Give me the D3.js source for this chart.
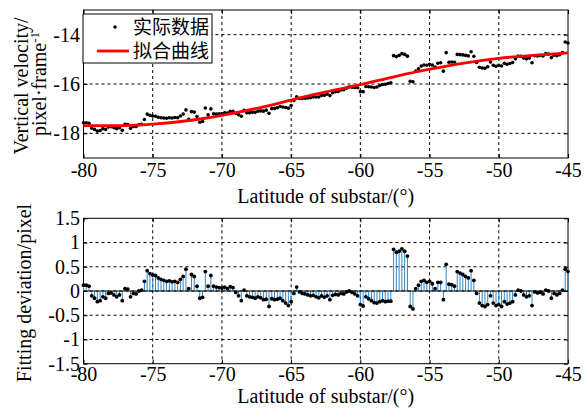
<!DOCTYPE html>
<html>
<head>
<meta charset="utf-8">
<script src="https://cdn.jsdelivr.net/npm/d3@7"></script>
<style>
  body { margin: 0; background: #fff; }
  svg { display: block; }
  .tick text { font-family: "Liberation Serif", "Times New Roman", serif; font-size: 20px; fill: #000; }
</style>
</head>
<body>
<svg id="chart" width="586" height="409"></svg>
<script>
// ---- data ----
const latitudes = [
  -80.0,-79.8,-79.6,-79.4,-79.2,-79.0,-78.8,-78.6,-78.4,-78.2,
  -78.0,-77.8,-77.6,-77.4,-77.2,-77.0,-76.8,-76.6,-76.4,-76.2,
  -76.0,-75.8,-75.6,-75.4,-75.2,-75.0,-74.8,-74.6,-74.4,-74.2,
  -74.0,-73.8,-73.6,-73.4,-73.2,-73.0,-72.8,-72.6,-72.4,-72.2,
  -72.0,-71.8,-71.6,-71.4,-71.2,-71.0,-70.8,-70.6,-70.4,-70.2,
  -70.0,-69.8,-69.6,-69.4,-69.2,-69.0,-68.8,-68.6,-68.4,-68.2,
  -68.0,-67.8,-67.6,-67.4,-67.2,-67.0,-66.8,-66.6,-66.4,-66.2,
  -66.0,-65.8,-65.6,-65.4,-65.2,-65.0,-64.8,-64.6,-64.4,-64.2,
  -64.0,-63.8,-63.6,-63.4,-63.2,-63.0,-62.8,-62.6,-62.4,-62.2,
  -62.0,-61.8,-61.6,-61.4,-61.2,-61.0,-60.8,-60.6,-60.4,-60.2,
  -60.0,-59.8,-59.6,-59.4,-59.2,-59.0,-58.8,-58.6,-58.4,-58.2,
  -58.0,-57.8,-57.6,-57.4,-57.2,-57.0,-56.8,-56.6,-56.4,-56.2,
  -56.0,-55.8,-55.6,-55.4,-55.2,-55.0,-54.8,-54.6,-54.4,-54.2,
  -54.0,-53.8,-53.6,-53.4,-53.2,-53.0,-52.8,-52.6,-52.4,-52.2,
  -52.0,-51.8,-51.6,-51.4,-51.2,-51.0,-50.8,-50.6,-50.4,-50.2,
  -50.0,-49.8,-49.6,-49.4,-49.2,-49.0,-48.8,-48.6,-48.4,-48.2,
  -48.0,-47.8,-47.6,-47.4,-47.2,-47.0,-46.8,-46.6,-46.4,-46.2,
  -46.0,-45.8,-45.6,-45.4,-45.2,-45.0
];

// measured vertical velocity (pixel/frame)
const velocity = [
  -17.57,-17.57,-17.59,-17.79,-17.84,-17.91,-17.89,-17.81,-17.84,-17.74,
  -17.73,-17.77,-17.81,-17.77,-17.88,-17.63,-17.64,-17.79,-17.72,-17.72,
  -17.65,-17.63,-17.44,-17.22,-17.27,-17.30,-17.31,-17.35,-17.37,-17.38,
  -17.39,-17.37,-17.38,-17.36,-17.37,-17.30,-17.22,-17.05,-17.43,-17.12,
  -17.14,-17.32,-17.55,-17.52,-16.97,-17.25,-17.01,-17.21,-17.22,-17.21,
  -17.21,-17.17,-17.18,-17.11,-17.11,-17.19,-17.24,-17.31,-17.07,-17.17,
  -17.17,-17.15,-17.15,-17.10,-17.09,-17.10,-17.06,-17.19,-17.00,-16.99,
  -16.96,-16.91,-16.93,-16.95,-16.98,-16.87,-16.67,-16.52,-16.59,-16.59,
  -16.58,-16.57,-16.56,-16.53,-16.53,-16.53,-16.46,-16.46,-16.41,-16.47,
  -16.35,-16.31,-16.30,-16.24,-16.23,-16.17,-16.12,-16.13,-16.14,-16.15,
  -16.31,-16.31,-16.10,-16.11,-16.12,-16.14,-16.12,-16.06,-16.02,-16.01,
  -15.98,-15.95,-14.85,-14.89,-14.84,-14.77,-14.80,-14.87,-15.89,-15.91,
  -15.47,-15.38,-15.27,-15.23,-15.24,-15.20,-15.23,-15.31,-15.16,-15.14,
  -15.48,-14.73,-15.12,-15.11,-15.12,-14.80,-14.81,-14.82,-14.84,-14.86,
  -14.69,-14.88,-15.13,-15.32,-15.35,-15.36,-15.30,-15.11,-15.24,-15.28,
  -15.24,-15.27,-15.16,-15.20,-15.17,-15.13,-14.98,-14.87,-14.88,-14.95,
  -14.98,-14.95,-15.14,-14.85,-14.86,-14.84,-14.86,-14.77,-14.79,-14.93,
  -14.83,-14.85,-14.81,-14.73,-14.30,-14.34
];

// fitting deviation (pixel)
const deviation = [
   0.12, 0.12, 0.10,-0.10,-0.15,-0.22,-0.20,-0.12,-0.15,-0.05,
  -0.04,-0.08,-0.12,-0.08,-0.20, 0.05, 0.04,-0.12,-0.05,-0.06,
   0.00, 0.02, 0.20, 0.42, 0.36, 0.33, 0.32, 0.27, 0.24, 0.22,
   0.20, 0.21, 0.19, 0.20, 0.18, 0.24, 0.30, 0.45, 0.05, 0.34,
   0.30, 0.10,-0.15,-0.13, 0.40, 0.10, 0.32, 0.10, 0.08, 0.07,
   0.06, 0.08, 0.05, 0.09, 0.07,-0.03,-0.10,-0.20, 0.02,-0.10,
  -0.12,-0.13,-0.15,-0.12,-0.14,-0.18,-0.17,-0.32,-0.16,-0.18,
  -0.17,-0.15,-0.20,-0.25,-0.30,-0.22,-0.05, 0.08,-0.02,-0.05,
  -0.06,-0.08,-0.10,-0.09,-0.12,-0.14,-0.10,-0.13,-0.10,-0.18,
  -0.09,-0.07,-0.08,-0.05,-0.06,-0.02, 0.00,-0.03,-0.06,-0.10,
  -0.28,-0.31,-0.12,-0.16,-0.20,-0.24,-0.25,-0.22,-0.20,-0.22,
  -0.21,-0.21, 0.86, 0.80, 0.82, 0.87, 0.82, 0.72,-0.32,-0.37,
   0.05, 0.12, 0.20, 0.22, 0.18, 0.20, 0.15, 0.05, 0.18, 0.18,
  -0.18, 0.55, 0.14, 0.13, 0.10, 0.40, 0.37, 0.34, 0.30, 0.27,
   0.42, 0.22,-0.05,-0.25,-0.30,-0.32,-0.28,-0.10,-0.25,-0.30,
  -0.28,-0.32,-0.22,-0.27,-0.25,-0.22,-0.08, 0.02, 0.00,-0.08,
  -0.12,-0.10,-0.30,-0.02,-0.04,-0.03,-0.06, 0.02, 0.00,-0.15,
  -0.05,-0.08,-0.05, 0.02, 0.45, 0.40
];

// fitted curve, read at every 2.5 degrees
const fitLatitudes = [-80,-77.5,-75,-72.5,-70,-67.5,-65,-62.5,-60,-57.5,-55,-52.5,-50,-47.5,-45];
const fitVelocity = [-17.69,-17.69,-17.63,-17.49,-17.27,-16.99,-16.65,-16.32,-16.03,-15.70,-15.40,-15.15,-14.96,-14.84,-14.74];

const xTicks = [-80,-75,-70,-65,-60,-55,-50,-45];
const topYTicks = [-18,-16,-14];
const botYTicks = [-1.5,-1,-0.5,0,0.5,1,1.5];
const legendLabels = ["实际数据", "拟合曲线"];

// ---- layout ----
const svg = d3.select("#chart");
const serif = '"Liberation Serif", "Times New Roman", serif';
const left = 83.5, right = 568;

const x = d3.scaleLinear().domain([-80, -45]).range([left, right]);
const yTop = d3.scaleLinear().domain([-19, -13]).range([158, 10]);
const yBot = d3.scaleLinear().domain([-1.5, 1.5]).range([363.7, 218.3]);

function panel(y, yTicks, labelY) {
  const g = svg.append("g");
  const [y0, y1] = y.range();

  // dotted grid
  g.append("g").selectAll("line")
    .data(xTicks.filter(d => d > -80 && d < -45))
    .join("line")
      .attr("x1", d => x(d)).attr("x2", d => x(d))
      .attr("y1", y1).attr("y2", y0)
      .attr("stroke", "#000").attr("stroke-width", 1)
      .attr("stroke-dasharray", "3,3");
  g.append("g").selectAll("line")
    .data(yTicks.filter(d => y(d) > y1 + 1 && y(d) < y0 - 1))
    .join("line")
      .attr("x1", left).attr("x2", right)
      .attr("y1", d => y(d)).attr("y2", d => y(d))
      .attr("stroke", "#000").attr("stroke-width", 1)
      .attr("stroke-dasharray", "3,3");

  // axes with inside ticks
  const ax = g.append("g").attr("transform", `translate(0,${y0})`)
    .call(d3.axisBottom(x).tickValues(xTicks).tickSize(-4).tickSizeOuter(0).tickFormat(String));
  ax.selectAll("text").attr("y", labelY).attr("dy", null);
  g.append("g").attr("transform", `translate(0,${y1})`)
    .call(d3.axisTop(x).tickValues(xTicks).tickSize(-4).tickSizeOuter(0).tickFormat(""));
  g.append("g").attr("transform", `translate(${left},0)`)
    .call(d3.axisLeft(y).tickValues(yTicks).tickSize(-4).tickSizeOuter(0).tickPadding(3.5).tickFormat(String));
  g.append("g").attr("transform", `translate(${right},0)`)
    .call(d3.axisRight(y).tickValues(yTicks).tickSize(-4).tickSizeOuter(0).tickFormat(""));
  g.selectAll(".domain").remove();
  g.selectAll(".tick line").attr("stroke", "#000");

  g.append("rect")
    .attr("x", left).attr("y", y1)
    .attr("width", right - left).attr("height", y0 - y1)
    .attr("fill", "none").attr("stroke", "#000").attr("stroke-width", 1);
  return g;
}

// ---- top panel ----
panel(yTop, [-19, ...topYTicks, -13].filter(d => topYTicks.includes(d)), 19);

const pts = latitudes.map((d, i) => ({lat: d, v: velocity[i], dev: deviation[i]}));

svg.append("g").selectAll("circle")
  .data(pts)
  .join("circle")
    .attr("cx", d => x(d.lat))
    .attr("cy", d => yTop(d.v))
    .attr("r", 1.8)
    .attr("fill", "#000");

const fitPts = fitLatitudes.map((d, i) => [d, fitVelocity[i]]);
svg.append("path")
  .datum(fitPts)
  .attr("fill", "none")
  .attr("stroke", "#f00")
  .attr("stroke-width", 2.8)
  .attr("d", d3.line().x(d => x(d[0])).y(d => yTop(d[1])).curve(d3.curveMonotoneX));

// legend
const lg = svg.append("g");
lg.append("rect")
  .attr("x", 83).attr("y", 14).attr("width", 129).attr("height", 49)
  .attr("fill", "#fff").attr("stroke", "#000").attr("stroke-width", 1);
lg.append("circle").attr("cx", 115).attr("cy", 27).attr("r", 1.8).attr("fill", "#000");
lg.append("line").attr("x1", 97).attr("x2", 129).attr("y1", 51).attr("y2", 51)
  .attr("stroke", "#f00").attr("stroke-width", 2.8);
lg.selectAll("text.lab")
  .data(legendLabels)
  .join("text")
    .attr("class", "lab")
    .attr("x", 133)
    .attr("y", (d, i) => 27 + i * 24)
    .attr("dy", "0.36em")
    .style("font-family", '"Noto Sans CJK SC", sans-serif')
    .style("font-size", "19px")
    .text(d => d);

// top axis titles
svg.append("text")
  .attr("x", (left + right) / 2).attr("y", 203)
  .attr("text-anchor", "middle")
  .style("font-family", serif).style("font-size", "20px")
  .text("Latitude of substar/(°)");

svg.append("text")
  .attr("transform", "translate(28,86) rotate(-90)")
  .attr("text-anchor", "middle")
  .style("font-family", serif).style("font-size", "20px")
  .text("Vertical velocity/");
const t2 = svg.append("text")
  .attr("transform", "translate(46,84) rotate(-90)")
  .attr("text-anchor", "middle")
  .style("font-family", serif).style("font-size", "20px");
t2.append("tspan").text("pixel·frame");
t2.append("tspan").attr("baseline-shift", "super").style("font-size", "13px").text("-1");

// ---- bottom panel ----
panel(yBot, botYTicks, 17.5);

svg.append("g").selectAll("line")
  .data(pts)
  .join("line")
    .attr("x1", d => x(d.lat)).attr("x2", d => x(d.lat))
    .attr("y1", yBot(0)).attr("y2", d => yBot(d.dev))
    .attr("stroke", "#2e86c9").attr("stroke-width", 1);

svg.append("line")
  .attr("x1", left).attr("x2", right)
  .attr("y1", yBot(0)).attr("y2", yBot(0))
  .attr("stroke", "#000").attr("stroke-width", 1);

svg.append("g").selectAll("circle")
  .data(pts)
  .join("circle")
    .attr("cx", d => x(d.lat))
    .attr("cy", d => yBot(d.dev))
    .attr("r", 1.9)
    .attr("fill", "#000");

svg.append("text")
  .attr("x", (left + right) / 2).attr("y", 403)
  .attr("text-anchor", "middle")
  .style("font-family", serif).style("font-size", "20px")
  .text("Latitude of substar/(°)");

svg.append("text")
  .attr("transform", "translate(31,293) rotate(-90)")
  .attr("text-anchor", "middle")
  .style("font-family", serif).style("font-size", "20px")
  .text("Fitting deviation/pixel");
</script>
</body>
</html>
